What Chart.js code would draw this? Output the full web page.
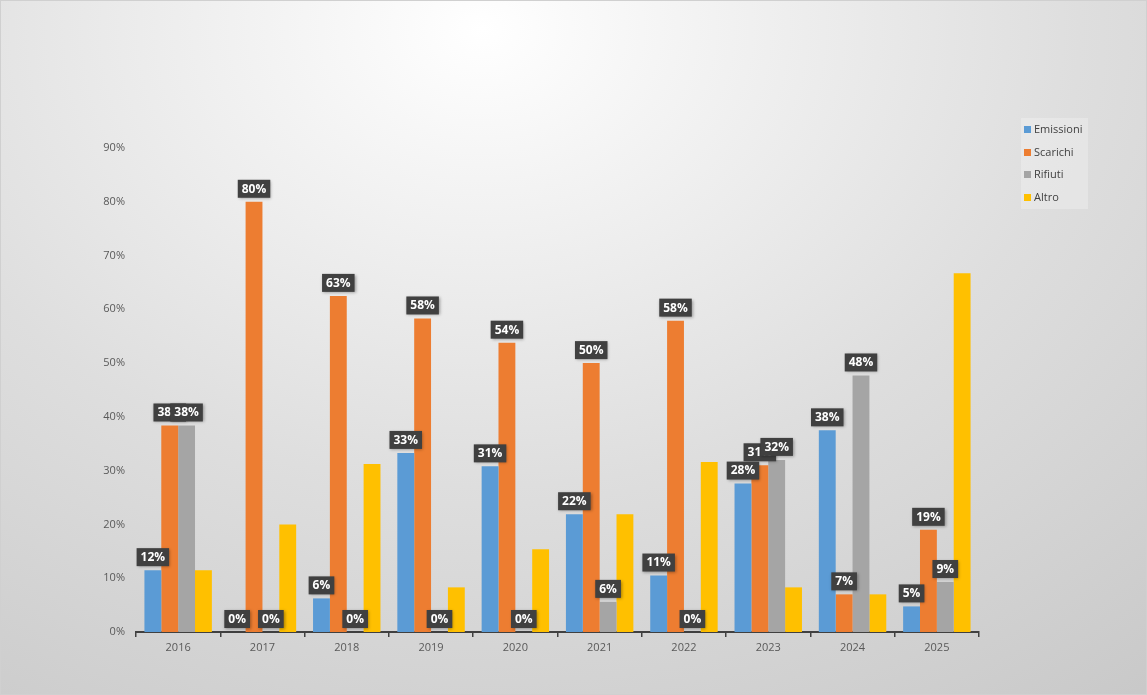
<!DOCTYPE html>
<html>
<head>
<meta charset="utf-8">
<script src="https://cdn.jsdelivr.net/npm/chart.js@4"></script>
<style>
    body { margin: 0; }
    #sfondo {
        position: relative;
        width: 1147px;
        height: 695px;
        box-sizing: border-box;
        border: 1px solid #d0d0d0;
        background: radial-gradient(ellipse 95% 120% at 42% 4%, #ffffff 0%, #f4f4f4 18%, #dedede 55%, #c9c9c9 100%);
        font-family: "Open Sans", sans-serif;
    }
    #grafico { position: absolute; left: 0; top: 0; }
    #legenda {
        position: absolute;
        left: 1020px;
        top: 117px;
        width: 67px;
        height: 91px;
        background: rgba(255, 255, 255, 0.25);
        box-sizing: border-box;
        padding-top: 4px;
    }
    .voce {
        height: 22.5px;
        line-height: 13px;
        font-size: 11px;
        color: #404040;
        padding-left: 3px;
    }
    .voce span {
        display: inline-block;
        width: 7px;
        height: 7px;
        margin-right: 3px;
    }
</style>
</head>
<body>
<div id="sfondo">
    <canvas id="grafico" width="1145" height="693"></canvas>
    <div id="legenda"></div>
</div>
<script>
var anni = ['2016', '2017', '2018', '2019', '2020', '2021', '2022', '2023', '2024', '2025'];

var nomiSerie = ['Emissioni', 'Scarichi', 'Rifiuti', 'Altro'];
var coloriSerie = ['#5B9BD5', '#ED7D31', '#A5A5A5', '#FFC000'];

// valori in percentuale
var emissioni = [11.5, 0, 6.25, 33.3, 30.8, 21.9, 10.5, 27.6, 37.5, 4.76];
var scarichi = [38.4, 80, 62.5, 58.3, 53.8, 50, 57.9, 31, 7, 19];
var rifiuti = [38.4, 0, 0, 0, 0, 5.6, 0, 32, 47.7, 9.3];
var altro = [11.5, 20, 31.25, 8.3, 15.4, 21.9, 31.6, 8.3, 7, 66.7];

var tickY = [0, 10, 20, 30, 40, 50, 60, 70, 80, 90];

// serie con etichetta, nell'ordine in cui vengono disegnate
var ordineEtichette = [1, 0, 2];

var valoriSerie = [emissioni, scarichi, rifiuti, altro];

var datasets = [];
for (let i = 0; i < nomiSerie.length; i++) {
    datasets.push({
        label: nomiSerie[i],
        data: valoriSerie[i],
        backgroundColor: coloriSerie[i],
        categoryPercentage: 0.8,
        barPercentage: 1
    });
}

var etichette = {
    id: 'etichette',
    afterDatasetsDraw: function (chart) {
        var ctx = chart.ctx;
        ctx.save();
        ctx.font = 'bold 12px "Open Sans"';
        ctx.textAlign = 'center';
        ctx.textBaseline = 'middle';
        for (let k = 0; k < ordineEtichette.length; k++) {
            var d = ordineEtichette[k];
            var meta = chart.getDatasetMeta(d);
            meta.data.forEach(function (bar, i) {
                var testo = Math.round(chart.data.datasets[d].data[i]) + '%';
                var w = ctx.measureText(testo).width + 8;
                var h = 18;
                var fondo = bar.y - 4;
                ctx.shadowColor = 'rgba(0,0,0,0.35)';
                ctx.shadowBlur = 3;
                ctx.shadowOffsetX = 1;
                ctx.shadowOffsetY = 1;
                ctx.fillStyle = '#404040';
                ctx.fillRect(bar.x - w / 2, fondo - h, w, h);
                ctx.shadowColor = 'transparent';
                ctx.fillStyle = '#ffffff';
                ctx.fillText(testo, bar.x, fondo - h / 2 + 0.5);
            });
        }
        ctx.restore();
    }
};

var grafico = new Chart(document.getElementById('grafico'), {
    type: 'bar',
    data: {
        labels: anni,
        datasets: datasets
    },
    options: {
        responsive: false,
        animation: false,
        layout: {
            padding: { left: 90, right: 167, top: 147, bottom: 22 }
        },
        plugins: {
            legend: { display: false },
            tooltip: { enabled: false }
        },
        scales: {
            x: {
                grid: {
                    display: true,
                    offset: true,
                    drawOnChartArea: false,
                    drawTicks: true,
                    tickLength: 5,
                    color: '#404040',
                    lineWidth: 1.5
                },
                border: { display: true, color: '#404040', width: 2 },
                ticks: {
                    color: '#595959',
                    font: { family: 'Open Sans', size: 11 },
                    padding: 4
                },
                afterFit: function (scale) { scale.height = 40; }
            },
            y: {
                min: 0,
                max: 90,
                afterBuildTicks: function (scale) {
                    scale.ticks = tickY.map(function (v) { return { value: v }; });
                },
                grid: { display: false, drawTicks: false },
                border: { display: false },
                ticks: {
                    color: '#595959',
                    font: { family: 'Open Sans', size: 11 },
                    padding: 11,
                    callback: function (v) { return v + '%'; }
                },
                afterFit: function (scale) { scale.width = 45; }
            }
        }
    },
    plugins: [etichette]
});

var legenda = document.getElementById('legenda');
for (let i = 0; i < nomiSerie.length; i++) {
    var voce = document.createElement('div');
    voce.className = 'voce';
    voce.innerHTML = '<span style="background:' + coloriSerie[i] + '"></span>' + nomiSerie[i];
    legenda.appendChild(voce);
}
</script>
</body>
</html>
